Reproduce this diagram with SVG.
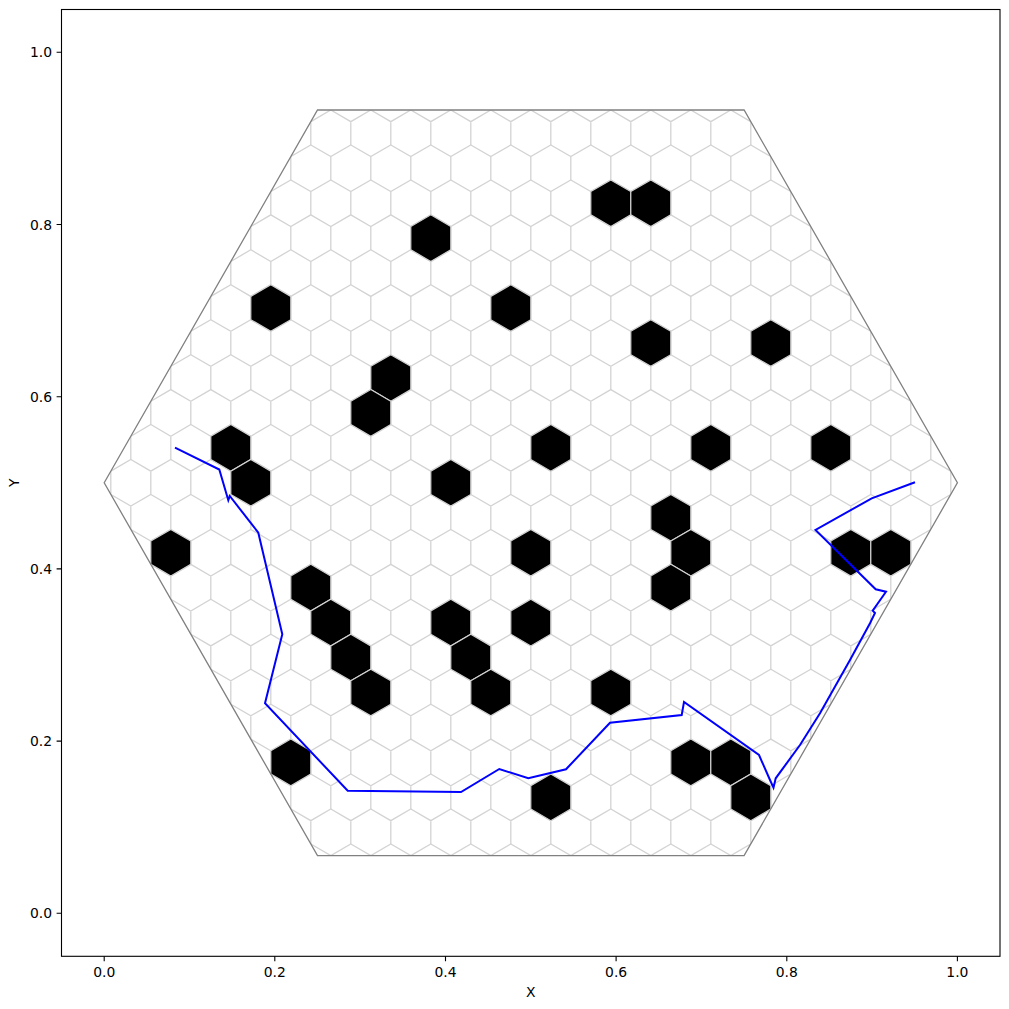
<svg xmlns="http://www.w3.org/2000/svg" xmlns:xlink="http://www.w3.org/1999/xlink" width="1009" height="1009" viewBox="0 0 1009 1009">
<style>
text{font-family:"DejaVu Sans","Liberation Sans",sans-serif;font-size:13.9px;fill:#000}
.tk{stroke:#000;stroke-width:1.1}
.blk{fill:#000;stroke:#d3d3d3;stroke-width:1.2}
.grid{fill:none;stroke:#d3d3d3;stroke-width:1.3}
</style>
<defs>
<path id="hx" d="M0,-23.3L20,-11.65L20,11.65L0,23.3L-20,11.65L-20,-11.65Z"/>
<path id="row" d="M-9.2,-11.65l20,-11.65l20,11.65l20,-11.65l20,11.65l20,-11.65l20,11.65l20,-11.65l20,11.65l20,-11.65l20,11.65l20,-11.65l20,11.65l20,-11.65l20,11.65l20,-11.65l20,11.65l20,-11.65l20,11.65l20,-11.65l20,11.65l20,-11.65l20,11.65l20,-11.65l20,11.65l20,-11.65l20,11.65l20,-11.65l20,11.65l20,-11.65l20,11.65l20,-11.65l20,11.65l20,-11.65l20,11.65l20,-11.65l20,11.65l20,-11.65l20,11.65l20,-11.65l20,11.65l20,-11.65l20,11.65l20,-11.65l20,11.65l20,-11.65l20,11.65l20,-11.65l20,11.65l20,-11.65l20,11.65M-9.2,-11.65v23.3m40,-23.3v23.3m40,-23.3v23.3m40,-23.3v23.3m40,-23.3v23.3m40,-23.3v23.3m40,-23.3v23.3m40,-23.3v23.3m40,-23.3v23.3m40,-23.3v23.3m40,-23.3v23.3m40,-23.3v23.3m40,-23.3v23.3m40,-23.3v23.3m40,-23.3v23.3m40,-23.3v23.3m40,-23.3v23.3m40,-23.3v23.3m40,-23.3v23.3m40,-23.3v23.3m40,-23.3v23.3m40,-23.3v23.3m40,-23.3v23.3m40,-23.3v23.3m40,-23.3v23.3m40,-23.3v23.3"/>
<clipPath id="bigclip">
<polygon points="104.2,482.8 317.5,110 744.1,110 957.4,482.8 744.1,855.6 317.5,855.6"/>
</clipPath>
</defs>
<rect width="1009" height="1009" fill="#fff"/>
<g id="axes">
<rect x="61.5" y="9.5" width="938.5" height="946.8" fill="none" stroke="#000" stroke-width="1.1"/>
<path class="tk" d="M104.2,956.3v4.9M274.8,956.3v4.9M445.5,956.3v4.9M616.1,956.3v4.9M786.8,956.3v4.9M957.4,956.3v4.9"/>
<path class="tk" d="M61.5,913.3h-4.9M61.5,741.1h-4.9M61.5,568.9h-4.9M61.5,396.7h-4.9M61.5,224.5h-4.9M61.5,52.3h-4.9"/>
<g text-anchor="middle">
<text x="104.2" y="977">0.0</text>
<text x="274.8" y="977">0.2</text>
<text x="445.5" y="977">0.4</text>
<text x="616.1" y="977">0.6</text>
<text x="786.8" y="977">0.8</text>
<text x="957.4" y="977">1.0</text>
<text x="530.8" y="997">X</text>
</g>
<g text-anchor="end">
<text x="52" y="918.3">0.0</text>
<text x="52" y="746.1">0.2</text>
<text x="52" y="573.9">0.4</text>
<text x="52" y="401.7">0.6</text>
<text x="52" y="229.5">0.8</text>
<text x="52" y="57.3">1.0</text>
</g>
<text transform="translate(19,482.8) rotate(-90)" text-anchor="middle">Y</text>
</g>
<g id="grid" class="grid" clip-path="url(#bigclip)">
<use href="#row" x="0" y="133.3"/>
<use href="#row" x="-20" y="168.25"/>
<use href="#row" x="0" y="203.2"/>
<use href="#row" x="-20" y="238.15"/>
<use href="#row" x="0" y="273.1"/>
<use href="#row" x="-20" y="308.05"/>
<use href="#row" x="0" y="343"/>
<use href="#row" x="-20" y="377.95"/>
<use href="#row" x="0" y="412.9"/>
<use href="#row" x="-20" y="447.85"/>
<use href="#row" x="0" y="482.8"/>
<use href="#row" x="-20" y="517.75"/>
<use href="#row" x="0" y="552.7"/>
<use href="#row" x="-20" y="587.65"/>
<use href="#row" x="0" y="622.6"/>
<use href="#row" x="-20" y="657.55"/>
<use href="#row" x="0" y="692.5"/>
<use href="#row" x="-20" y="727.45"/>
<use href="#row" x="0" y="762.4"/>
<use href="#row" x="-20" y="797.35"/>
<use href="#row" x="0" y="832.3"/>
<use href="#row" x="-20" y="867.25"/>
</g>
<g id="obstacles" class="blk">
<use id="o1" href="#hx" x="610.8" y="203.2"/>
<use id="o2" href="#hx" x="650.8" y="203.2"/>
<use id="o3" href="#hx" x="430.8" y="238.15"/>
<use id="o4" href="#hx" x="270.8" y="308.05"/>
<use id="o5" href="#hx" x="510.8" y="308.05"/>
<use id="o6" href="#hx" x="650.8" y="343"/>
<use id="o7" href="#hx" x="770.8" y="343"/>
<use id="o8" href="#hx" x="390.8" y="377.95"/>
<use id="o9" href="#hx" x="370.8" y="412.9"/>
<use id="o10" href="#hx" x="230.8" y="447.85"/>
<use id="o11" href="#hx" x="550.8" y="447.85"/>
<use id="o12" href="#hx" x="710.8" y="447.85"/>
<use id="o13" href="#hx" x="830.8" y="447.85"/>
<use id="o14" href="#hx" x="250.8" y="482.8"/>
<use id="o15" href="#hx" x="450.8" y="482.8"/>
<use id="o16" href="#hx" x="670.8" y="517.75"/>
<use id="o17" href="#hx" x="170.8" y="552.7"/>
<use id="o18" href="#hx" x="530.8" y="552.7"/>
<use id="o19" href="#hx" x="690.8" y="552.7"/>
<use id="o20" href="#hx" x="850.8" y="552.7"/>
<use id="o21" href="#hx" x="890.8" y="552.7"/>
<use id="o22" href="#hx" x="310.8" y="587.65"/>
<use id="o23" href="#hx" x="670.8" y="587.65"/>
<use id="o24" href="#hx" x="330.8" y="622.6"/>
<use id="o25" href="#hx" x="450.8" y="622.6"/>
<use id="o26" href="#hx" x="530.8" y="622.6"/>
<use id="o27" href="#hx" x="350.8" y="657.55"/>
<use id="o28" href="#hx" x="470.8" y="657.55"/>
<use id="o29" href="#hx" x="370.8" y="692.5"/>
<use id="o30" href="#hx" x="490.8" y="692.5"/>
<use id="o31" href="#hx" x="610.8" y="692.5"/>
<use id="o32" href="#hx" x="290.8" y="762.4"/>
<use id="o33" href="#hx" x="690.8" y="762.4"/>
<use id="o34" href="#hx" x="730.8" y="762.4"/>
<use id="o35" href="#hx" x="550.8" y="797.35"/>
<use id="o36" href="#hx" x="750.8" y="797.35"/>
</g>
<g id="boundary">
<polygon points="104.2,482.8 317.5,110 744.1,110 957.4,482.8 744.1,855.6 317.5,855.6" fill="none" stroke="#808080" stroke-width="1.3"/>
</g>
<g id="connectors">
<polyline fill="none" stroke="#0000ff" stroke-width="2" stroke-linejoin="miter" points="175,447.7 219.3,469.5 228.3,500.3 229.8,496 258.3,532.7 282.3,634.3 265,703.3 347.7,790.7 461,792 499.3,769 528.3,778.3 566,769.3 610,722.7 681.7,715 684,702 759,755 770,780 773.5,787.7 775.7,778.3 800,745 820,713.3 850,660 870,623.3 875,613 872.7,610.7 886,591.7 875.7,589.3 815.5,530 871.7,498.3 915,482.3"/>
</g>
</svg>
